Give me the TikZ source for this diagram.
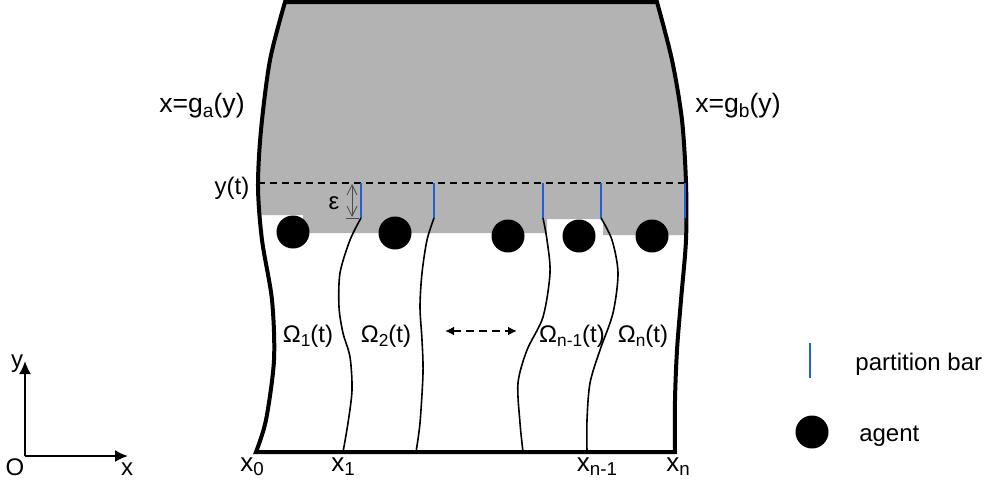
\documentclass[tikz,border=0pt]{standalone}
\usepackage{fontspec}
\setmainfont{Liberation Sans}
\usetikzlibrary{positioning,arrows.meta}
\definecolor{regiongray}{RGB}{179,179,179}
\definecolor{barblue}{RGB}{35,95,215}
\newcommand{\sbs}[1]{\raisebox{-0.3ex}{\scalebox{0.72}{#1}}}
\tikzset{
  wall/.style={line width=2pt, line join=miter},
  cut/.style={line width=0.8pt},
  pbar/.style={barblue, line width=1.1pt},
  agent/.style={circle, fill=black, minimum size=16.5pt, inner sep=0pt},
  lbl/.style={font=\fontsize{12}{14}\selectfont, inner sep=0pt},
  xlbl/.style={font=\fontsize{13}{15}\selectfont, inner sep=0pt},
  legend/.style={font=\fontsize{12}{14}\selectfont, inner sep=0pt},
  axis/.style={line width=1pt, -{Latex[length=6.5pt,width=6pt]}}
}
\begin{document}
\begin{tikzpicture}[x=0.5pt,y=-0.5pt]
\useasboundingbox (0,0) rectangle (985,489);
\coordinate (base0) at (256,452);
\coordinate (base1) at (343,452);
\coordinate (base2) at (416,452);
\coordinate (base3) at (523,452);
\coordinate (base4) at (587,452);
\coordinate (base5) at (675,452);
\begin{scope}
\clip plot[smooth] coordinates {(285,2) (270,60) (261,130) (258,187) (262,240) (272,300) (274,360) (266,420) (base0)}
  -- plot[smooth] coordinates {(base5) (675,400) (677,350) (681,300) (686,240) (686,183) (682,120) (672,60) (657,2)} -- cycle;
\fill[regiongray] (240,0) -- (700,0) -- (700,235) -- (603,235) -- (603,219) -- (547,219) -- (547,233)
  -- (303,233) -- (303,215) -- (240,215) -- cycle;
\end{scope}
\draw[wall] plot[smooth] coordinates {(285,2) (270,60) (261,130) (258,187) (262,240) (272,300) (274,360) (266,420) (base0)}
  -- plot[smooth] coordinates {(base5) (675,400) (677,350) (681,300) (686,240) (686,183) (682,120) (672,60) (657,2)} -- cycle;
\coordinate (ya) at (258,183);
\coordinate (yb) at (686,183);
\draw[line width=1pt, dash pattern=on 3.5pt off 2.5pt] (ya) -- (yb);
\foreach \i/\x in {1/361,2/434,3/543,4/601,5/685}{
  \coordinate (top\i) at (\x,183);
  \coordinate (bot\i) at (\x,218);
  \draw[pbar] (top\i) -- (bot\i);
}
\draw[cut] plot[smooth] coordinates {(bot1) (350,240) (340,273) (339,307) (343,333) (350,357) (352,390) (348,423) (base1)};
\draw[cut] plot[smooth] coordinates {(bot2) (427,240) (422,273) (420,307) (422,340) (423,373) (420,423) (base2)};
\draw[cut] plot[smooth] coordinates {(bot3) (547,240) (550,273) (543,317) (527,350) (518,383) (520,423) (base3)};
\draw[cut] plot[smooth] coordinates {(bot4) (612,240) (618,273) (613,313) (600,350) (590,383) (587,420) (base4)};
\coordinate (epstop) at (352,184);
\coordinate (epsbot) at (352,217);
\draw[black!70, line width=0.4pt, {Straight Barb[length=5pt,width=5pt]}-{Straight Barb[length=5pt,width=5pt]}] (epstop) -- (epsbot);
\draw[black!70, line width=0.4pt] (346,218) -- (359,218);
\node[lbl] (eps) at (334,203) {ε};
\foreach \i/\x/\y in {1/293/232,2/395/233,3/508/236,4/579/236,5/652/236}
  \node[agent] (ag\i) at (\x,\y) {};
\node[lbl, font=\fontsize{13.3}{15}\selectfont] (ga) at (202,106) {x=g\sbs{a}(y)};
\node[lbl, font=\fontsize{13.3}{15}\selectfont] (gb) at (738,106) {x=g\sbs{b}(y)};
\node[lbl] (yt) at (232,188) {y(t)};
\node[lbl] (om1) at (308,336) {Ω\sbs{1}(t)};
\node[lbl] (om2) at (386,336) {Ω\sbs{2}(t)};
\node[lbl] (omn1) at (572,336) {Ω\sbs{n-1}(t)};
\node[lbl] (omn) at (643,336) {Ω\sbs{n}(t)};
\coordinate (dl) at (445,331);
\coordinate (dr) at (517,331);
\draw[line width=1pt, dash pattern=on 4pt off 2.5pt, {Latex[length=4.5pt,width=4.5pt]}-{Latex[length=4.5pt,width=4.5pt]}] (dl) -- (dr);
\node[xlbl] (x0) at (252,467) {x\sbs{0}};
\node[xlbl] (x1) at (343,467) {x\sbs{1}};
\node[xlbl] (xn1) at (597,467) {x\sbs{n-1}};
\node[xlbl] (xn) at (678,467) {x\sbs{n}};
\coordinate (O) at (25,456);
\coordinate (ytip) at (25,361);
\coordinate (xtip) at (128,456);
\draw[axis] (O) -- (ytip);
\draw[axis] (O) -- (xtip);
\node[lbl] (ylab) at (17,364) {y};
\node[lbl] (olab) at (15,467) {O};
\node[lbl] (xlab) at (127,469) {x};
\coordinate (lbar) at (810,364);
\draw[pbar] (810,343) -- (810,378);
\node[legend, right=22.5pt of lbar] (lbartext) {partition bar};
\node[agent] (lagent) at (812,432) {};
\node[legend, right=15pt of lagent, yshift=-2pt] (lagenttext) {agent};
\end{tikzpicture}
\end{document}
